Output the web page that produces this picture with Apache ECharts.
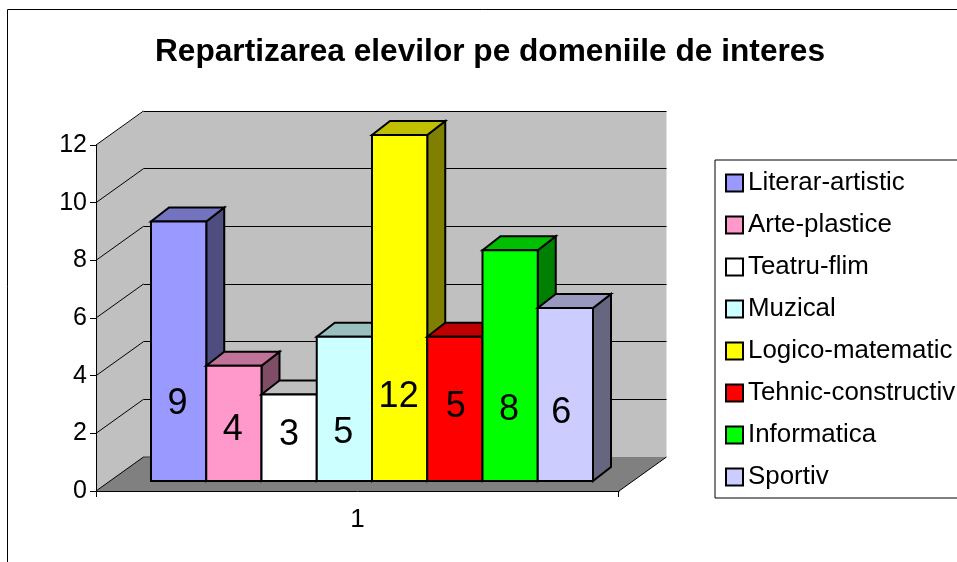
<!DOCTYPE html>
<html>
<head>
<meta charset="utf-8">
<style>html,body{margin:0;padding:0;background:#fff;overflow:hidden}#c{width:957px;height:562px}</style>
<script src="https://cdn.jsdelivr.net/npm/echarts@6/dist/echarts.min.js"></script>
</head>
<body>
<div id="c"></div>
<script>
const titleText = 'Repartizarea elevilor pe domeniile de interes';
const categories = ['1'];
const seriesNames = ['Literar-artistic','Arte-plastice','Teatru-flim','Muzical','Logico-matematic','Tehnic-constructiv','Informatica','Sportiv'];
const seriesValues = [9,4,3,5,12,5,8,6];
const yTicks = [0,2,4,6,8,10,12];
const frontColors = ['#9999FF','#FF99CC','#FFFFFF','#CCFFFF','#FFFF00','#FF0000','#00FF00','#CCCCFF'];
const topColors   = ['#7373BF','#BF7399','#BFBFBF','#99BFBF','#BFBF00','#BF0000','#00BF00','#9999BF'];
const sideColors  = ['#4D4D80','#804D66','#808080','#668080','#808000','#800000','#008000','#666680'];
// label height above the bar's foot, as placed in the reference
const labelLift = [77,50.5,45.5,47.5,84,73.5,71,68];
const labelNudge = [-1,-1,0,-1,-1,1,-1,-4];

const FONT = '"Liberation Sans", Arial, sans-serif';
const WALL = [47.5,-34], BAR_DEPTH = [18,-14], INSET = [14.5,-10], BAR_SHARE = 442/523;

function wallItem(params, api) {
  const x0 = api.coord([0,0])[0] - api.size([1,0])[0]/2;
  const x1 = x0 + api.size([1,0])[0];
  const y = v => api.coord([0,v])[1];
  const [dx,dy] = WALL;
  const yb = y(0), yt = y(12);
  const kids = [
    {type:'polygon',shape:{points:[[x0,yb],[x0+dx+1,yb+dy],[x0+dx+1,yt+dy],[x0,yt]]},style:{fill:'#C0C0C0'}},
    {type:'rect',shape:{x:x0+dx,y:yt+dy,width:x1-x0,height:yb-yt},style:{fill:'#C0C0C0'}},
    {type:'polygon',shape:{points:[[x0,yb],[x1,yb],[x1+dx,yb+dy],[x0+dx,yb+dy]]},style:{fill:'#808080'}},
    {type:'line',shape:{x1:x1,y1:yb,x2:x1+dx,y2:yb+dy},style:{stroke:'#000',lineWidth:1}},
    {type:'line',shape:{x1:x0+dx,y1:yb+dy,x2:x0+dx+8,y2:yb+dy},style:{stroke:'#333',lineWidth:1}},
    {type:'line',shape:{x1:x0+.5,y1:yb,x2:x0+.5,y2:yb+6},style:{stroke:'#000',lineWidth:1}},
    {type:'line',shape:{x1:x1-.5,y1:yb,x2:x1-.5,y2:yb+6},style:{stroke:'#000',lineWidth:1}}
  ];
  yTicks.forEach(t => {
    const yy = y(t);
    kids.push({type:'line',shape:{x1:x0,y1:yy,x2:x0+dx,y2:yy+dy},style:{stroke:'#000',lineWidth:1}});
    if (t > 0) {
      const ly = Math.floor(yy+dy)+.5;
      kids.push({type:'line',shape:{x1:x0+dx,y1:ly,x2:x1+dx,y2:ly},style:{stroke:'#000',lineWidth:1.2}});
    }
  });
  return {type:'group',children:kids};
}

function barItem(i) {
  return function(params, api) {
    const v = api.value(1);
    const band = api.size([1,0])[0];
    const w = band * BAR_SHARE / seriesValues.length;
    const c = api.coord([0,v]), b = api.coord([0,0]);
    const l = c[0] + (i - seriesValues.length/2) * w + INSET[0];
    const r = l + w;
    const t = c[1] + INSET[1], f = b[1] + INSET[1];
    const [dx,dy] = BAR_DEPTH;
    const line = {stroke:'#000',lineWidth:2,lineJoin:'miter'};
    return {type:'group',children:[
      {type:'polygon',shape:{points:[[r,t],[r+dx,t+dy],[r+dx,f+dy],[r,f]]},style:{fill:sideColors[i],...line}},
      {type:'polygon',shape:{points:[[l,t],[l+dx,t+dy],[r+dx,t+dy],[r,t]]},style:{fill:topColors[i],...line}},
      {type:'rect',shape:{x:l,y:t,width:w,height:f-t},style:{fill:frontColors[i],...line}},
      {type:'text',z2:10,style:{text:String(v),x:(l+r)/2+labelNudge[i],y:f-labelLift[i],align:'center',verticalAlign:'middle',fill:'#000',font:'36px '+FONT}}
    ]};
  };
}

const chart = echarts.init(document.getElementById('c'),null,{renderer:'canvas'});
chart.setOption({
  animation:false,
  backgroundColor:'#fff',
  title:{text:titleText,left:155,top:36,padding:0,textStyle:{fontFamily:FONT,fontSize:31.65,fontWeight:'bold',color:'#000'}},
  graphic:[{type:'rect',z:-1,shape:{x:7.5,y:9.5,width:1100,height:700},style:{fill:'none',stroke:'#000',lineWidth:1}}],
  legend:{
    orient:'vertical',left:715,top:160,padding:[2,20,0,10],
    backgroundColor:'#fff',borderColor:'#000',borderWidth:1,
    icon:'rect',itemWidth:17,itemHeight:17,itemGap:0,selectedMode:false,
    itemStyle:{borderColor:'#000',borderWidth:2},
    textStyle:{fontFamily:FONT,fontSize:25.9,color:'#000',lineHeight:34,padding:[0,0,8,0]},
    data:seriesNames
  },
  grid:{left:96,top:145,width:523,height:346},
  xAxis:{type:'category',data:categories,z:5,
    axisLine:{show:true,lineStyle:{color:'#000',width:1}},
    axisTick:{show:false},
    axisLabel:{fontFamily:FONT,fontSize:26,color:'#000',margin:16},
    splitLine:{show:false}},
  yAxis:{type:'value',min:0,max:12,interval:2,z:5,
    axisLine:{show:true,lineStyle:{color:'#000',width:1}},
    axisTick:{show:true,length:6,lineStyle:{color:'#000'}},
    axisLabel:{fontFamily:FONT,fontSize:25,color:'#000',margin:9,padding:[3,0,0,0]},
    splitLine:{show:false}},
  series:[
    {type:'custom',name:'walls',data:[[0,0]],renderItem:wallItem,silent:true,encode:{x:0,y:1},z:1},
    ...seriesNames.map((n,i)=>({
      type:'custom',name:n,data:[[0,seriesValues[i]]],renderItem:barItem(i),
      encode:{x:0,y:1},z:2+i,itemStyle:{color:frontColors[i]},silent:true
    }))
  ]
});
</script>
</body>
</html>
